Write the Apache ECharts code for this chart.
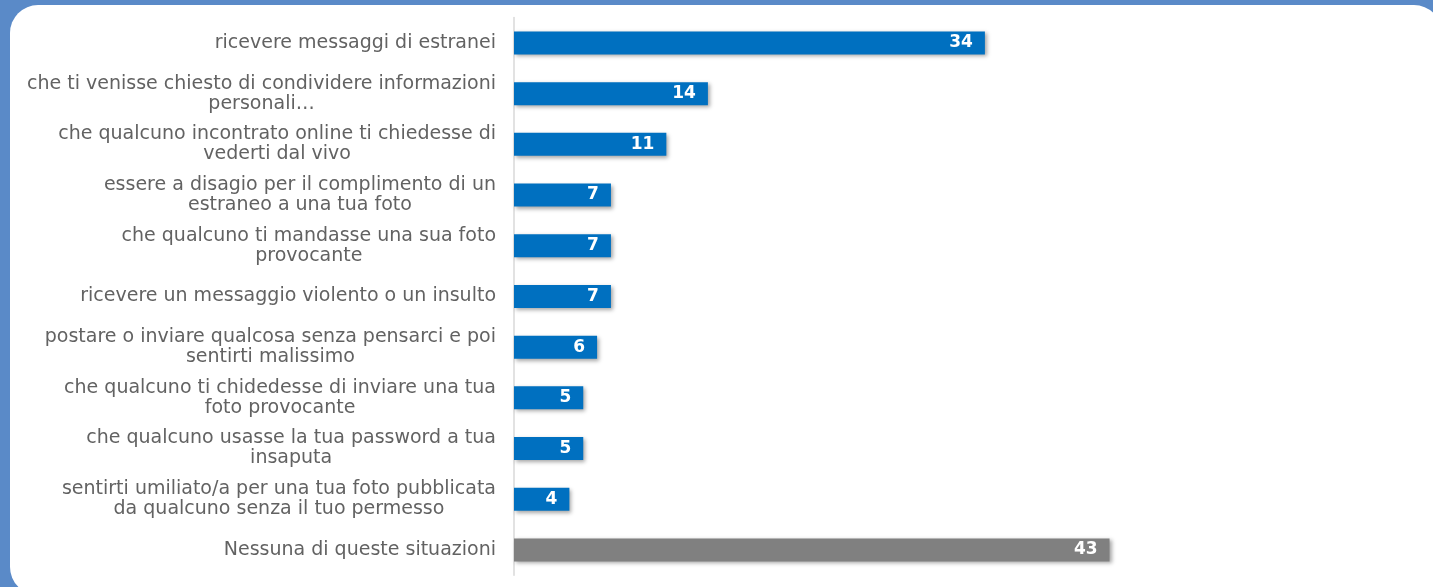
<!DOCTYPE html>
<html>
<head>
<meta charset="utf-8">
<script src="https://cdn.jsdelivr.net/npm/echarts@6/dist/echarts.min.js"></script>
<style>
  html, body { margin: 0; padding: 0; }
  body { width: 1433px; height: 587px; background: #5a8ac8; overflow: hidden; position: relative; }
  .card {
    position: absolute; left: 10px; top: 5px; width: 1432px; height: 590px;
    background: #fff; border-radius: 28px;
  }
  #main { position: absolute; left: 0; top: 0; width: 1433px; height: 587px; }
</style>
</head>
<body>
<div class="card"></div>
<div id="main"></div>
<script>
// categorie (dall'alto in basso)
const categories = [
  "ricevere messaggi di estranei",
  "che ti venisse chiesto di condividere informazioni\npersonali…",
  "che qualcuno incontrato online ti chiedesse di\nvederti dal vivo",
  "essere a disagio per il complimento di un\nestraneo a una tua foto",
  "che qualcuno ti mandasse una sua foto\nprovocante",
  "ricevere un messaggio violento o un insulto",
  "postare o inviare qualcosa senza pensarci e poi\nsentirti malissimo",
  "che qualcuno ti chidedesse di inviare una tua\nfoto provocante",
  "che qualcuno usasse la tua password a tua\ninsaputa",
  "sentirti umiliato/a per una tua foto pubblicata\nda qualcuno senza il tuo permesso",
  "Nessuna di queste situazioni"
];
const values = [34, 14, 11, 7, 7, 7, 6, 5, 5, 4, 43];
const barColors = ["#0070C0", "#0070C0", "#0070C0", "#0070C0", "#0070C0", "#0070C0",
  "#0070C0", "#0070C0", "#0070C0", "#0070C0", "#808080"];

let chartMain = echarts.init(document.getElementById("main"));
let option = {
  animation: false,
  grid: {
    left: 514,
    top: 17.6,
    width: 692.5,
    height: 557.7,
    outerBoundsMode: "none",
  },
  xAxis: {
    type: "value",
    min: 0,
    max: 50,
    show: false,
  },
  yAxis: {
    type: "category",
    inverse: true,
    data: categories,
    axisTick: { show: false },
    axisLine: {
      show: true,
      lineStyle: { color: "#d9d9d9", width: 1.5 },
    },
    axisLabel: {
      margin: 18,
      color: "#595959",
      fontFamily: "DejaVu Sans",
      fontSize: 19,
      lineHeight: 20,
      // righe centrate tra loro, blocco allineato a destra
      formatter: function (v) {
        return v.split("\n").map(function (s) { return "{c|" + s + "}"; }).join("\n");
      },
      rich: {
        c: {
          align: "center",
          color: "#626262",
          fontFamily: "DejaVu Sans",
          fontSize: 19,
          lineHeight: 20,
        },
      },
    },
  },
  series: [
    {
      type: "bar",
      barWidth: 23,
      data: values.map(function (v, i) {
        return { value: v, itemStyle: { color: barColors[i] } };
      }),
      itemStyle: {
        shadowBlur: 4,
        shadowColor: "rgba(0,0,0,0.35)",
        shadowOffsetX: 2,
        shadowOffsetY: 2,
      },
      label: {
        show: true,
        position: "insideRight",
        distance: 12,
        color: "#fff",
        fontFamily: "DejaVu Sans",
        fontWeight: "bold",
        fontSize: 17,
      },
    },
  ],
};
chartMain.setOption(option);
</script>
</body>
</html>
